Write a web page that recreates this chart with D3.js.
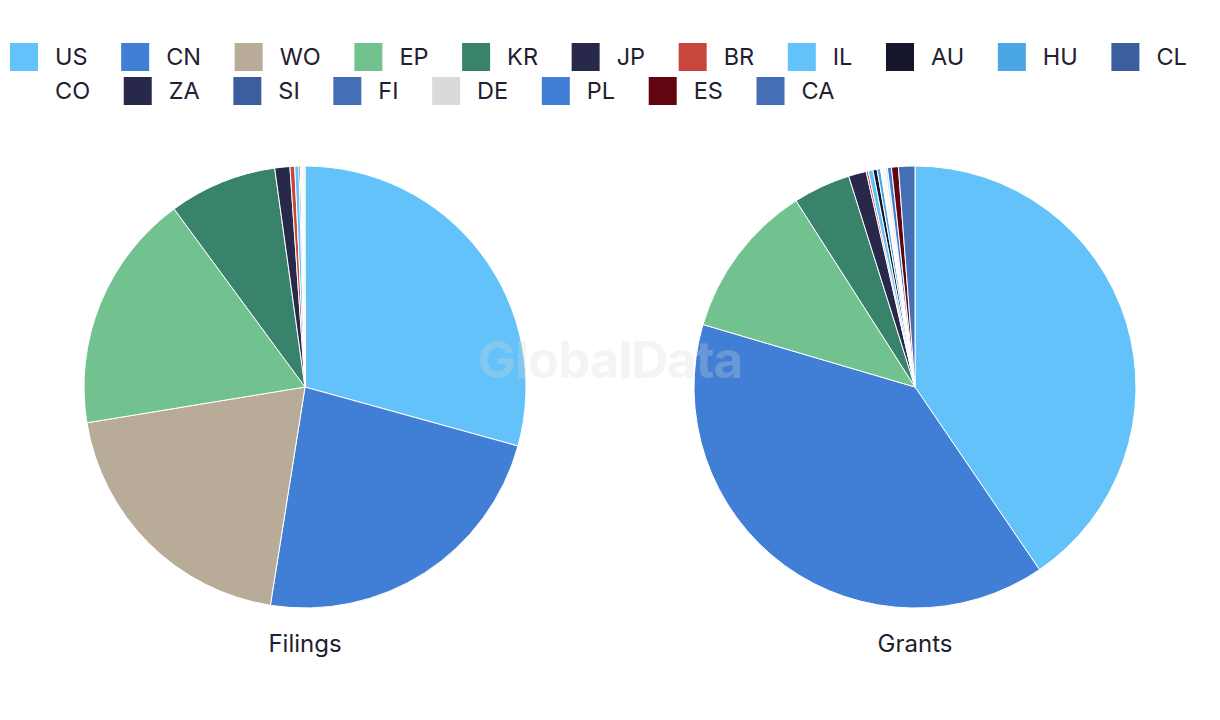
<!DOCTYPE html>
<html>
<head>
<meta charset="utf-8">
<script src="https://cdn.jsdelivr.net/npm/d3@7"></script>
<style>
  html, body { margin: 0; padding: 0; background: #ffffff; }
  svg { display: block; }
  text { font-family: Inter, "Noto Sans", sans-serif; }
</style>
</head>
<body>
<svg id="chart" width="1220" height="720"></svg>
<script>
// Categories (patent offices)
const categories = ["US","CN","WO","EP","KR","JP","BR","IL","AU","HU","CL","CO","ZA","SI","FI","DE","PL","ES","CA"];
// Share of filings (%)
const filings = [29.3, 23.2, 19.9, 17.5, 7.9, 1.1, 0.35, 0.3, 0.1, 0.05, 0.02, 0.05, 0.02, 0.02, 0.02, 0.05, 0.03, 0.03, 0.05];
// Share of grants (%)
const grants  = [40.5, 39.1, 0, 11.4, 4.2, 1.3, 0.15, 0.35, 0.3, 0.25, 0.05, 0.15, 0.05, 0.05, 0.05, 0.15, 0.3, 0.5, 1.2];
const colors = ["#62c2f9","#417ed6","#b8ab98","#72c290","#39826b","#27284a","#c9463f","#62c2f9","#15162b","#4aa6e4","#3b5f9e","#ffffff","#27284a","#3b5f9e","#456eb5","#dadada","#417ed6","#630511","#456eb5"];
const pieTitles = ["Filings","Grants"];

const svg = d3.select("#chart");
const color = d3.scaleOrdinal().domain(categories).range(colors);

// Legend
const legend = svg.append("g");
const fontSize = 23.5;
let lx = 10, ly = 57;
const maxX = 1214;
categories.forEach((c, i) => {
  const g = legend.append("g");
  const t = g.append("text").attr("x", 45).attr("y", 0).attr("dy", "0.35em")
    .attr("font-size", fontSize).attr("fill", "#1f2030").text(c);
  const tw = t.node().getComputedTextLength();
  const w = 45 + tw;
  if (lx + w > maxX) { lx = 10; ly += 34; }
  g.attr("transform", `translate(${lx},${ly})`);
  g.insert("rect", "text").attr("x", 0).attr("y", -14).attr("width", 28).attr("height", 28)
    .attr("fill", color(c));
  lx += w + 33.6;
});

// Pies
const radius = 221;
const centers = [305, 915];
const cy = 387;
const pie = d3.pie().sort(null).value(d => d.v);
const arc = d3.arc().innerRadius(0).outerRadius(radius);

[filings, grants].forEach((vals, k) => {
  const data = categories.map((c, i) => ({ c, v: vals[i] }));
  const g = svg.append("g").attr("transform", `translate(${centers[k]},${cy})`);
  g.selectAll("path").data(pie(data).filter(d => d.data.v > 0)).join("path")
    .attr("d", arc)
    .attr("fill", d => color(d.data.c))
    .attr("stroke", "#ffffff")
    .attr("stroke-width", 1);
  svg.append("text").attr("x", centers[k]).attr("y", 644).attr("dy", "0.35em")
    .attr("text-anchor", "middle").attr("font-size", 24).attr("fill", "#1f2030")
    .text(pieTitles[k]);
});

// Watermark
svg.append("text").attr("x", 610).attr("y", 360).attr("dy", "0.35em")
  .attr("text-anchor", "middle").attr("font-size", 51).attr("font-weight", 700)
  .attr("fill", "#d7d7d7").attr("fill-opacity", 0.28).attr("letter-spacing", -1)
  .text("GlobalData");
</script>
</body>
</html>
